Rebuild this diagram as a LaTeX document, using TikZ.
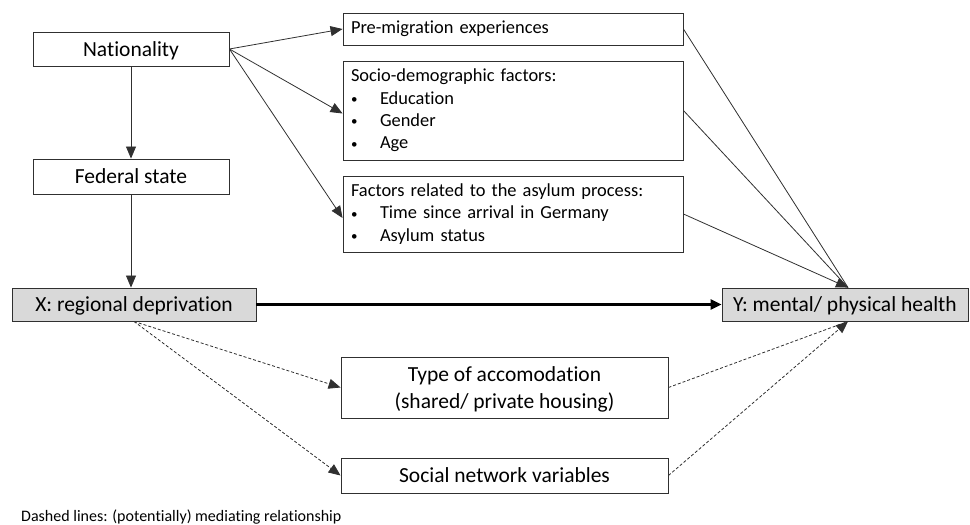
\documentclass[tikz,border=0pt]{standalone}
\usepackage{fontspec}
\setmainfont{Carlito}[RawFeature={-liga;-clig;-dlig}]
\usetikzlibrary{arrows.meta,calc}
\definecolor{boxgray}{HTML}{D9D9D9}
\definecolor{linegray}{HTML}{303030}
\tikzset{
  bigbox/.style={draw=linegray, line width=0.9pt, rectangle, inner sep=0pt,
    font=\fontsize{21.5}{27}\selectfont, align=center, text depth=0pt},
  listbox/.style={draw=linegray, line width=0.9pt, rectangle, inner xsep=8pt, inner ysep=0pt,
    text width=324pt, align=left, font=\fontsize{18.4}{22.3}\selectfont},
  conn/.style={draw=linegray, line width=0.8pt, -{Triangle[length=12pt,width=10pt]}},
  tconn/.style={draw=linegray, line width=0.8pt},
  thick conn/.style={draw=black, line width=2.6pt, -{Triangle[length=11pt,width=10pt]}},
  dconn/.style={draw=linegray, line width=0.8pt, dash pattern=on 3pt off 2pt},
  dconnarrow/.style={dconn, -{Triangle[length=12pt,width=10pt]}},
}
\newcommand{\bul}{\makebox[29pt][l]{\raisebox{0.5pt}{\fontsize{13}{13}\selectfont •}}}
\begin{document}
\begin{tikzpicture}[x=1pt,y=-1pt]
\useasboundingbox (0,0) rectangle (970,525);

\node[bigbox, minimum width=196pt, minimum height=34pt] (nat) at (131,49) {Nationality};
\node[bigbox, minimum width=196pt, minimum height=35pt] (fed) at (131,176.5) {Federal state};
\node[bigbox, fill=boxgray, minimum width=244pt, minimum height=33pt] (X) at (134,304.5) {X: regional deprivation};
\node[bigbox, fill=boxgray, minimum width=246pt, minimum height=33pt] (Y) at (845,304.5) {Y: mental/ physical health};

\node[listbox, minimum height=32pt] (pre) at (513,29) {Pre-migration experiences};
\node[listbox, minimum height=99pt] (socio) at (513,110.5) {Socio-demographic factors:\\\bul Education\\\bul Gender\\\bul Age};
\node[listbox, minimum height=76pt] (asyl) at (513,214) {Factors related to the asylum process:\\\bul Time since arrival in Germany\\\bul Asylum status};

\node[bigbox, minimum width=327pt, minimum height=61pt] (acc) at (504.5,387.5) {Type of accomodation\\(shared/ private housing)};
\node[bigbox, minimum width=327pt, minimum height=35pt] (soc) at (504.5,475.5) {Social network variables};

\node[anchor=west, inner sep=0pt, font=\fontsize{16}{19}\selectfont] (note) at (21,517) {Dashed lines: (potentially) mediating relationship};

\coordinate (yt) at ([xshift=3pt]Y.north);
\coordinate (yb) at ([xshift=3pt]Y.south);

% Nationality arrows
\draw[conn] (nat.east) -- (pre.west);
\draw[conn] (nat.east) -- ([yshift=-3pt]socio.west);
\draw[conn] (nat.east) -- ([yshift=-4pt]asyl.west);
\draw[conn] (nat.south) -- (fed.north);
\draw[conn] (fed.south) -- (fed.south |- X.north);

% main path
\draw[thick conn] (X.east) -- (Y.west);

% confounders to Y
\draw[tconn] (pre.east) -- (yt);
\draw[tconn] (socio.east) -- (yt);
\draw[conn] (asyl.east) -- (yt);

% mediators
\draw[dconnarrow] (X.south) -- (acc.west);
\draw[dconnarrow] (X.south) -- (soc.west);
\draw[dconn] (acc.east) -- (yb);
\draw[dconnarrow] (soc.east) -- (yb);
\end{tikzpicture}
\end{document}
